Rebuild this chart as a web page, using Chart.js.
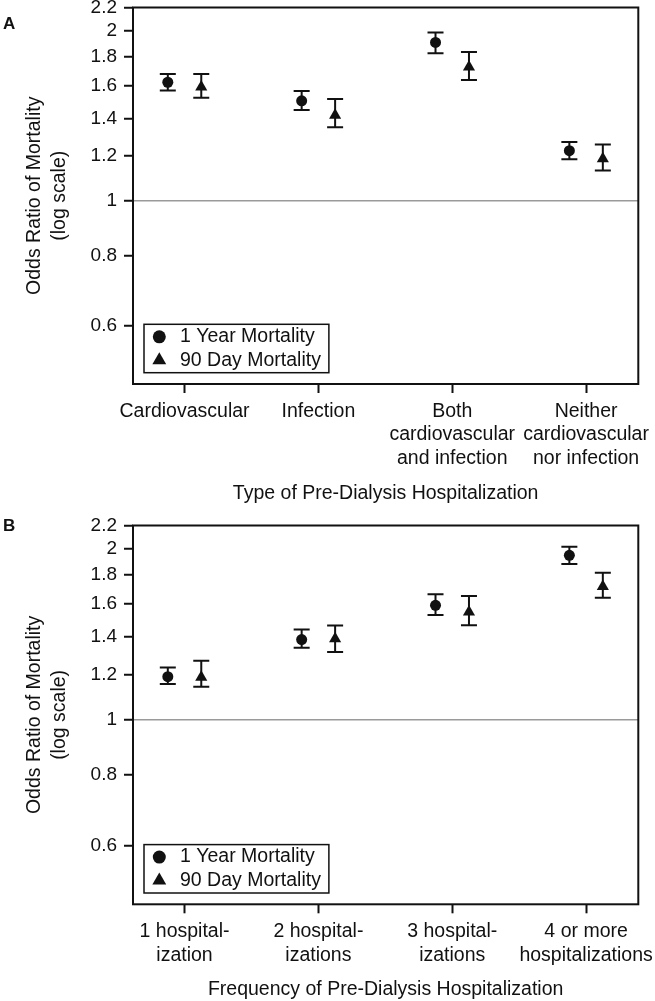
<!DOCTYPE html>
<html>
<head>
<meta charset="utf-8">
<script src="https://cdn.jsdelivr.net/npm/chart.js@4.4.1/dist/chart.umd.min.js"></script>
<style>
  html, body { margin: 0; padding: 0; background: #fff; }
  body { width: 655px; height: 1001px; position: relative; overflow: hidden; font-family: 'Liberation Sans', Arial, sans-serif; }
  .panel { position: absolute; left: 0; width: 655px; }
  .tag { position: absolute; left: 3px; font-weight: bold; font-size: 17px; line-height: 17px; color: #111; }
</style>
</head>
<body>
<div class="panel" style="top:0;height:505px"><canvas id="chartA" width="655" height="505"></canvas></div>
<div class="panel" style="top:505px;height:496px"><canvas id="chartB" width="655" height="496"></canvas></div>
<div class="tag" style="top:15px">A</div>
<div class="tag" style="top:517px">B</div>
<script>
const seriesNames = ['1 Year Mortality', '90 Day Mortality']
const yTicks = [0.6, 0.8, 1, 1.2, 1.4, 1.6, 1.8, 2, 2.2]
const yTitle = ['Odds Ratio of Mortality', '(log scale)']

// panel A - type of hospitalization
const typeLabels = ['Cardiovascular', 'Infection', ['Both', 'cardiovascular', 'and infection'], ['Neither', 'cardiovascular', 'nor infection']]
const typeYear = [1.622, 1.504, 1.908, 1.227]
const typeYearLo = [1.568, 1.449, 1.826, 1.185]
const typeYearHi = [1.678, 1.566, 1.986, 1.272]
const typeDay = [1.591, 1.418, 1.726, 1.188]
const typeDayLo = [1.523, 1.350, 1.637, 1.132]
const typeDayHi = [1.678, 1.515, 1.835, 1.258]

// panel B - number of hospitalizations
const freqLabels = [['1 hospital-', 'ization'], ['2 hospital-', 'izations'], ['3 hospital-', 'izations'], ['4 or more', 'hospitalizations']]
const freqYear = [1.192, 1.386, 1.592, 1.950]
const freqYearLo = [1.157, 1.341, 1.531, 1.882]
const freqYearHi = [1.238, 1.444, 1.665, 2.019]
const freqDay = [1.190, 1.390, 1.549, 1.719]
const freqDayLo = [1.145, 1.317, 1.468, 1.642]
const freqDayHi = [1.272, 1.467, 1.653, 1.817]

const ink = '#111'
const family = "'Liberation Sans', Arial, sans-serif"
const fontSize = 19.5
Chart.defaults.font.family = family
Chart.defaults.color = ink

const errorBars = {
  id: 'errorBars',
  beforeDatasetsDraw (chart) {
    const ctx = chart.ctx
    const y = chart.scales.y
    ctx.save()
    ctx.strokeStyle = ink
    ctx.lineWidth = 2
    chart.data.datasets.forEach((ds, di) => {
      chart.getDatasetMeta(di).data.forEach((pt, i) => {
        const top = y.getPixelForValue(ds.hi[i])
        const bot = y.getPixelForValue(ds.lo[i])
        ctx.beginPath()
        ctx.moveTo(pt.x, top)
        ctx.lineTo(pt.x, bot)
        ctx.moveTo(pt.x - 8, top)
        ctx.lineTo(pt.x + 8, top)
        ctx.moveTo(pt.x - 8, bot)
        ctx.lineTo(pt.x + 8, bot)
        ctx.stroke()
      })
    })
    ctx.restore()
  }
}

const frame = {
  id: 'frame',
  afterDatasetsDraw (chart) {
    const { ctx, chartArea: a } = chart
    ctx.save()
    ctx.strokeStyle = ink
    ctx.lineWidth = 2
    ctx.strokeRect(a.left, a.top, a.right - a.left, a.bottom - a.top)
    ctx.restore()
  }
}

const boxLegend = {
  id: 'boxLegend',
  afterDraw (chart) {
    const { ctx, chartArea } = chart
    const sets = chart.data.datasets
    const rowH = 23.4
    const textX = 36
    ctx.save()
    ctx.font = fontSize + 'px ' + family
    const w = textX + Math.max(...sets.map(d => ctx.measureText(d.label).width)) + 8
    const h = rowH * sets.length + 1.6
    const left = chartArea.left + 11
    const top = chartArea.bottom - 11.3 - h
    ctx.fillStyle = '#fff'
    ctx.fillRect(left, top, w, h)
    ctx.strokeStyle = ink
    ctx.lineWidth = 1.5
    ctx.strokeRect(left, top, w, h)
    sets.forEach((ds, i) => {
      const cy = top + 0.8 + rowH * (i + 0.5)
      ctx.fillStyle = ink
      Chart.helpers.drawPoint(ctx, { pointStyle: ds.pointStyle, radius: ds.legendRadius, borderWidth: 0 }, left + 15.3, cy)
      ctx.textBaseline = 'middle'
      ctx.textAlign = 'left'
      ctx.fillStyle = ink
      ctx.fillText(ds.label, left + textX, cy)
    })
    ctx.restore()
  }
}

const makeChart = (id, labels, year, yearLo, yearHi, day, dayLo, dayHi, xTitle, padTop, axisH) => {
  const shift = 0.125
  return new Chart(document.getElementById(id), {
    type: 'scatter',
    data: {
      datasets: [{
        label: seriesNames[0],
        data: year.map((v, i) => ({ x: i + 1 - shift, y: v })),
        lo: yearLo,
        hi: yearHi,
        pointStyle: 'circle',
        pointRadius: 5.5,
        legendRadius: 6.5,
        backgroundColor: ink,
        borderColor: ink,
        borderWidth: 0
      }, {
        label: seriesNames[1],
        data: day.map((v, i) => ({ x: i + 1 + shift, y: v })),
        lo: dayLo,
        hi: dayHi,
        pointStyle: 'triangle',
        pointRadius: 7,
        legendRadius: 8,
        backgroundColor: ink,
        borderColor: ink,
        borderWidth: 0
      }]
    },
    options: {
      responsive: false,
      animation: false,
      events: [],
      layout: { padding: { top: padTop, right: 16.7, bottom: 0, left: 0 } },
      plugins: {
        legend: { display: false },
        tooltip: { enabled: false }
      },
      scales: {
        x: {
          type: 'linear',
          min: 0.615,
          max: 4.39,
          afterBuildTicks: s => { s.ticks = labels.map((l, i) => ({ value: i + 1 })) },
          afterFit: s => { s.height = axisH; s.paddingLeft = 0; s.paddingRight = 0 },
          ticks: {
            autoSkip: false,
            maxRotation: 0,
            minRotation: 0,
            padding: 7,
            color: ink,
            font: { size: fontSize, lineHeight: 1.2 },
            callback: v => labels[Math.round(v) - 1]
          },
          grid: { drawOnChartArea: false, tickColor: ink, tickWidth: 2, tickLength: 9 },
          border: { display: false },
          title: {
            display: true,
            text: xTitle,
            color: ink,
            font: { size: fontSize, lineHeight: 1.2 },
            padding: { top: 10, bottom: 0 }
          }
        },
        y: {
          type: 'logarithmic',
          min: 0.474,
          max: 2.2,
          afterBuildTicks: s => { s.ticks = yTicks.map(v => ({ value: v })) },
          afterFit: s => { s.width = 133; s.paddingTop = 0; s.paddingBottom = 0 },
          ticks: {
            autoSkip: false,
            padding: 7,
            color: ink,
            font: { size: 19 },
            callback: v => String(v)
          },
          grid: {
            drawOnChartArea: true,
            color: c => (c.tick && c.tick.value === 1 ? '#9a9a9a' : 'rgba(0,0,0,0)'),
            lineWidth: 1.5,
            tickColor: ink,
            tickWidth: 2,
            tickLength: 9
          },
          border: { display: false },
          title: {
            display: true,
            text: yTitle,
            color: ink,
            font: { size: fontSize, lineHeight: 1.28 },
            padding: { top: 22.5, bottom: 0 }
          }
        }
      }
    },
    plugins: [errorBars, frame, boxLegend]
  })
}

makeChart('chartA', typeLabels, typeYear, typeYearLo, typeYearHi, typeDay, typeDayLo, typeDayHi,
  'Type of Pre-Dialysis Hospitalization', 7.5, 121)
makeChart('chartB', freqLabels, freqYear, freqYearLo, freqYearHi, freqDay, freqDayLo, freqDayHi,
  'Frequency of Pre-Dialysis Hospitalization', 20.5, 96.7)
</script>
</body>
</html>
